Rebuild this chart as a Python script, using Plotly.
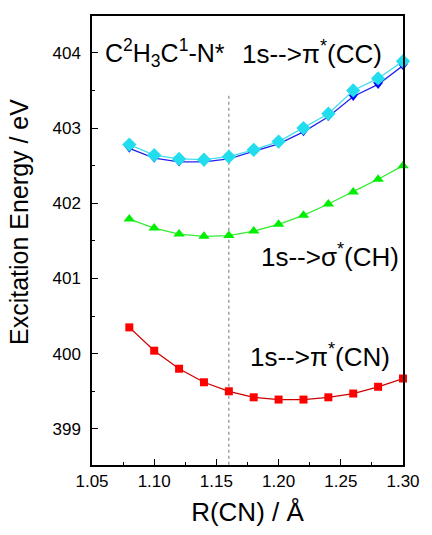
import plotly.graph_objects as go

r_cn = [1.08, 1.10, 1.12, 1.14, 1.16, 1.18, 1.20, 1.22, 1.24, 1.26, 1.28, 1.30]
pi_cn = [400.35, 400.04, 399.80, 399.62, 399.50, 399.42, 399.39, 399.39, 399.42, 399.47, 399.56, 399.67]
sigma_ch = [401.79, 401.67, 401.59, 401.56, 401.57, 401.63, 401.72, 401.84, 401.99, 402.15, 402.32, 402.50]
pi_cc_a = [402.78, 402.64, 402.59, 402.58, 402.62, 402.71, 402.82, 403.00, 403.19, 403.50, 403.66, 403.89]
pi_cc_b = [402.73, 402.60, 402.55, 402.55, 402.59, 402.69, 402.79, 402.95, 403.15, 403.42, 403.58, 403.83]
ref_r = [1.16, 1.16]
ref_e = [403.43, 398.52]

FONT = "Liberation Sans, Arial, sans-serif"

fig = go.Figure()
fig.add_trace(go.Scatter(x=ref_r, y=ref_e, mode="lines",
                         line=dict(color="#888888", width=1.2, dash="dot"), showlegend=False))
fig.add_trace(go.Scatter(x=r_cn, y=pi_cn, mode="lines+markers", cliponaxis=False,
                         line=dict(color="#cc0000", width=1.3),
                         marker=dict(symbol="square", size=8, color="#ff0000"), showlegend=False))
fig.add_trace(go.Scatter(x=r_cn, y=sigma_ch, mode="lines+markers", cliponaxis=False,
                         line=dict(color="#33ee33", width=1.3),
                         marker=dict(symbol="triangle-up", size=10, color="#00ee00"), showlegend=False))
fig.add_trace(go.Scatter(x=r_cn, y=pi_cc_b, mode="lines+markers", cliponaxis=False,
                         line=dict(color="#2222ee", width=1.3),
                         marker=dict(symbol="triangle-down", size=9, color="#0000ff"), showlegend=False))
fig.add_trace(go.Scatter(x=r_cn, y=pi_cc_a, mode="lines+markers", cliponaxis=False,
                         line=dict(color="#44ddee", width=1.3),
                         marker=dict(symbol="diamond", size=11, color="#22ddee"), showlegend=False))

ann_font = dict(family=FONT, size=26, color="black")
fig.add_annotation(x=1.0585, y=404.0, text="C<sup>2</sup>H<sub>3</sub>C<sup>1</sup>-N*",
                   showarrow=False, xanchor="left", yanchor="middle",
                   font=dict(family=FONT, size=25, color="black"))
fig.add_annotation(x=1.285, y=404.0, text="1s-->π<sup>*</sup>(CC)",
                   showarrow=False, xanchor="right", yanchor="middle", font=ann_font)
fig.add_annotation(x=1.2985, y=401.31, text="1s-->σ<sup>*</sup>(CH)",
                   showarrow=False, xanchor="right", yanchor="middle", font=ann_font)
fig.add_annotation(x=1.2915, y=399.98, text="1s-->π<sup>*</sup>(CN)",
                   showarrow=False, xanchor="right", yanchor="middle", font=ann_font)
fig.add_annotation(xref="paper", yref="paper", x=-0.235, y=0.541,
                   text="Excitation Energy / eV", textangle=-90, showarrow=False,
                   xanchor="center", yanchor="middle",
                   font=dict(family=FONT, size=25, color="black"))

axis_common = dict(showline=True, linecolor="black", linewidth=1.5, mirror=True,
                   ticks="inside", ticklen=6, tickwidth=1.2, tickcolor="black",
                   showgrid=False, zeroline=False,
                   tickfont=dict(family=FONT, size=17, color="black"))

fig.update_xaxes(range=[1.05, 1.30], tickvals=[1.05, 1.10, 1.15, 1.20, 1.25, 1.30],
                 ticktext=["1.05", "1.10", "1.15", "1.20", "1.25", "1.30"],
                 minor=dict(ticks="inside", ticklen=3, tickwidth=1.2, tickcolor="black", dtick=0.025, tick0=1.05),
                 title=dict(text="R(CN) / Å", font=dict(family=FONT, size=26, color="black"), standoff=13),
                 **axis_common)
fig.update_yaxes(range=[398.52, 404.49], tickvals=[399, 400, 401, 402, 403, 404],
                 minor=dict(ticks="inside", ticklen=3, tickwidth=1.2, tickcolor="black", dtick=0.5, tick0=399),
                 ticklabelstandoff=6,
                 **axis_common)

fig.update_layout(width=432, height=535, margin=dict(l=92, r=24, t=16, b=70),
                  plot_bgcolor="white", paper_bgcolor="white", showlegend=False)

fig.write_html("out.html", config={"displayModeBar": False},
               post_script="document.body.style.margin='0';document.body.style.overflow='hidden';")
